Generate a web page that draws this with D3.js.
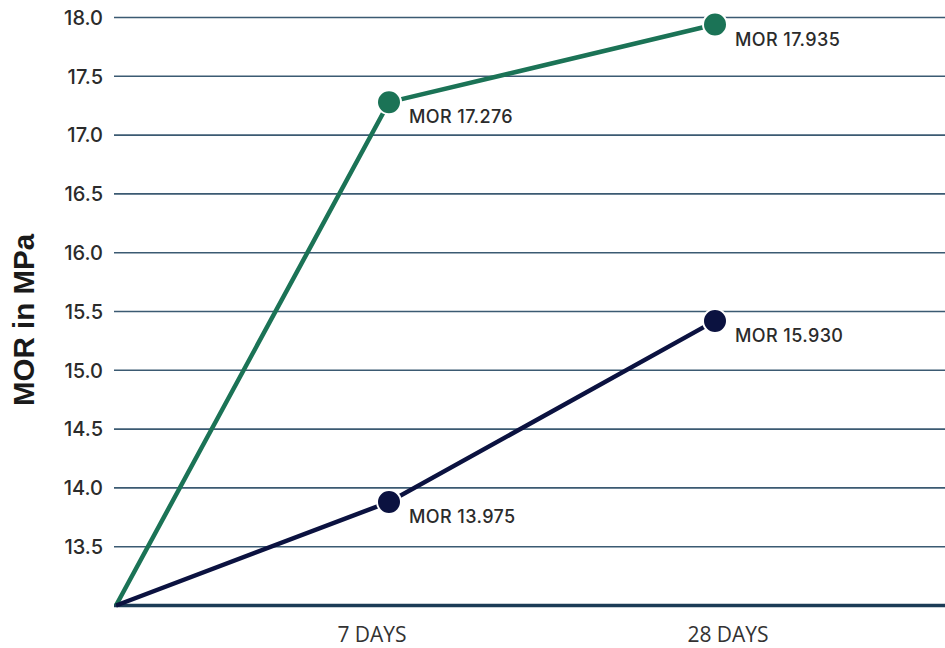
<!DOCTYPE html>
<html>
<head>
<meta charset="utf-8">
<script src="https://cdn.jsdelivr.net/npm/d3@7"></script>
<style>
  html, body { margin: 0; padding: 0; background: #ffffff; }
  svg { display: block; }
</style>
</head>
<body>
<svg id="chart" width="945" height="648"></svg>
<script>
// ---- data ----
const days = [0, 7, 28];
const xCategories = ["7 DAYS", "28 DAYS"];
const xCategoryDays = [7, 28];
const greenValues = [13.0, 17.28, 17.94];
const navyValues = [13.0, 13.88, 15.42];
const greenLabels = ["", "MOR 17.276", "MOR 17.935"];
const navyLabels = ["", "MOR 13.975", "MOR 15.930"];
const yTicks = [13.5, 14.0, 14.5, 15.0, 15.5, 16.0, 16.5, 17.0, 17.5, 18.0];
const yTitle = "MOR in MPa";

// ---- layout ----
const W = 945, H = 648;
const plotLeft = 114, plotRight = 945;
const svg = d3.select("#chart");

const x = d3.scaleLinear().domain([0, 7, 28]).range([116, 389, 715]);
const y = d3.scaleLinear().domain([13, 18]).range([605.5, 17.5]);
const labelNudge = [-17, 13];

const gridColor = "#3b5a72";
const axisColor = "#1c3c56";
const green = "#1b7356";
const navy = "#0b1240";
const textColor = "#2b2b2b";

// gridlines
svg.append("g").selectAll("line").data(yTicks).join("line")
  .attr("x1", plotLeft).attr("x2", plotRight)
  .attr("y1", d => y(d)).attr("y2", d => y(d))
  .attr("stroke", gridColor).attr("stroke-width", 1.6);

// y tick labels
svg.append("g").selectAll("text").data(yTicks).join("text")
  .attr("x", 103).attr("y", d => y(d)).attr("dy", "0.36em")
  .attr("text-anchor", "end")
  .attr("font-family", "Inter, sans-serif").attr("font-weight", 500)
  .attr("font-size", 20).attr("fill", textColor)
  .text(d => d.toFixed(1));

// bottom axis line
svg.append("line")
  .attr("x1", plotLeft).attr("x2", plotRight)
  .attr("y1", y(13)).attr("y2", y(13))
  .attr("stroke", axisColor).attr("stroke-width", 3.5);

// x labels
svg.append("g").selectAll("text").data(xCategories).join("text")
  .attr("x", (d, i) => x(xCategoryDays[i]) + labelNudge[i]).attr("y", 642)
  .attr("text-anchor", "middle")
  .attr("font-family", "'Open Sans', sans-serif")
  .attr("font-size", 21).attr("fill", "#333333")
  .text(d => d);

// y title
svg.append("text")
  .attr("transform", "translate(33.5,320) rotate(-90)")
  .attr("text-anchor", "middle")
  .attr("font-family", "'Liberation Sans', Arial, sans-serif").attr("font-weight", "bold")
  .attr("font-size", 29.5).attr("fill", "#1a1a1a")
  .text(yTitle);

const line = d3.line().x((d, i) => x(days[i])).y(d => y(d));

function drawSeries(values, labels, color) {
  svg.append("path").datum(values)
    .attr("d", line).attr("fill", "none")
    .attr("stroke", color).attr("stroke-width", 4.5)
    .attr("stroke-linecap", "butt");
  const pts = values.map((v, i) => ({ v, d: days[i], label: labels[i] })).filter(p => p.d > 0);
  svg.append("g").selectAll("circle").data(pts).join("circle")
    .attr("cx", p => x(p.d)).attr("cy", p => y(p.v)).attr("r", 12)
    .attr("fill", color).attr("stroke", "#ffffff").attr("stroke-width", 2);
  svg.append("g").selectAll("text").data(pts).join("text")
    .attr("x", p => x(p.d) + 20).attr("y", p => y(p.v) + 21)
    .attr("font-family", "Inter, sans-serif").attr("font-weight", 500)
    .attr("font-size", 18).attr("letter-spacing", 0.4).attr("fill", textColor)
    .text(p => p.label);
}

drawSeries(greenValues, greenLabels, green);
drawSeries(navyValues, navyLabels, navy);
</script>
</body>
</html>
